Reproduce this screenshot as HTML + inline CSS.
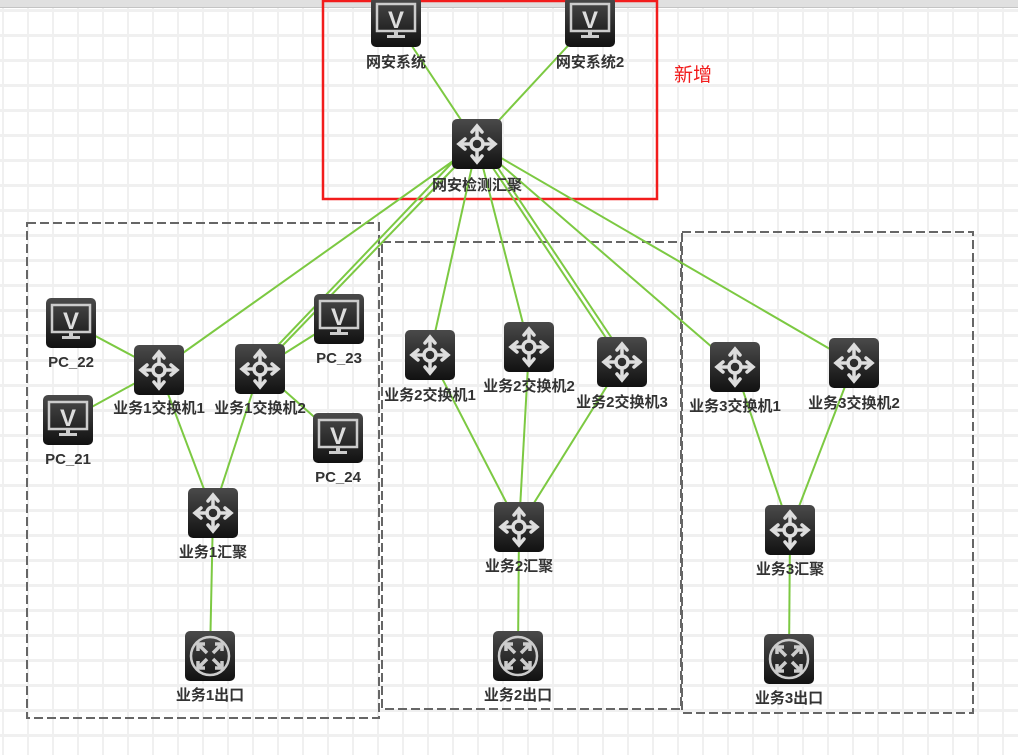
<!DOCTYPE html>
<html><head><meta charset="utf-8"><style>
html,body{margin:0;padding:0;width:1018px;height:755px;overflow:hidden;background:#fff}
svg text{font-family:"Liberation Sans","Noto Sans CJK SC",sans-serif;font-weight:bold;font-size:15px;fill:#333}
</style></head><body>
<svg width="1018" height="755" viewBox="0 0 1018 755" xmlns="http://www.w3.org/2000/svg">
<defs>
<pattern id="grid" x="2" y="9" width="25" height="25" patternUnits="userSpaceOnUse">
<rect x="0" y="0" width="25" height="3" fill="#f0f0f0"/><rect x="0" y="0" width="2" height="25" fill="#f0f0f0"/>
</pattern>
<linearGradient id="g" x1="0" y1="0" x2="0" y2="1"><stop offset="0" stop-color="#4a4a4a"/><stop offset="1" stop-color="#111"/></linearGradient>
<g id="sw">
<rect x="-25" y="-25" width="50" height="50" rx="5" fill="url(#g)"/>
<g stroke="#ddd" stroke-width="3.5" fill="none" stroke-linecap="round">
<circle cx="0" cy="0" r="6"/>
<line x1="0" y1="-6" x2="0" y2="-17"/><line x1="0" y1="6" x2="0" y2="17"/><line x1="-6" y1="0" x2="-17" y2="0"/><line x1="6" y1="0" x2="17" y2="0"/>
<polyline points="-5,-12 0,-18 5,-12"/><polyline points="-5,12 0,18 5,12"/><polyline points="-12,-5 -18,0 -12,5"/><polyline points="12,-5 18,0 12,5"/>
</g></g>
<g id="pc">
<rect x="-25" y="-25" width="50" height="50" rx="5" fill="url(#g)"/>
<rect x="-19" y="-18" width="38" height="27" fill="none" stroke="#ccc" stroke-width="2.5"/>
<text x="0" y="6" text-anchor="middle" style="font-size:24px;fill:#ddd;font-weight:bold">V</text>
<rect x="-2" y="9" width="4" height="5" fill="#ccc"/><rect x="-9" y="13" width="18" height="3" fill="#ccc"/>
</g>
<g id="rt">
<rect x="-25" y="-25" width="50" height="50" rx="5" fill="url(#g)"/>
<circle cx="0" cy="0" r="19" fill="none" stroke="#ccc" stroke-width="2.5"/>
<g stroke="#ccc" stroke-width="3.5" fill="none">
<line x1="-11" y1="-11" x2="-3" y2="-3"/><line x1="11" y1="-11" x2="3" y2="-3"/><line x1="-11" y1="11" x2="-3" y2="3"/><line x1="11" y1="11" x2="3" y2="3"/>
<polyline points="-12,-5 -12,-12 -5,-12"/><polyline points="12,-5 12,-12 5,-12"/><polyline points="-12,5 -12,12 -5,12"/><polyline points="12,5 12,12 5,12"/>
</g></g>
</defs>
<rect width="1018" height="755" fill="url(#grid)"/>
<rect x="0" y="0" width="1018" height="7" fill="#e0e0e0"/><rect x="0" y="7" width="1018" height="1" fill="#c4c4c4"/>

<g stroke="#666" stroke-width="2" fill="none" stroke-dasharray="9,4">
<rect x="27" y="223" width="352" height="495"/>
<rect x="382" y="242" width="299" height="467"/>
<rect x="682" y="232" width="291" height="481"/>
</g>
<rect x="323" y="1" width="334" height="198" fill="none" stroke="#f21c1c" stroke-width="2.5"/>
<text x="674" y="81" style="font-size:19px;font-weight:normal;fill:#f21c1c">新增</text>

<g stroke="#7cc942" stroke-width="2">
<line x1="477" y1="144" x2="396" y2="22"/><line x1="477" y1="144" x2="590" y2="22"/>
<line x1="477" y1="144" x2="159" y2="370"/>
<line x1="477" y1="144" x2="260" y2="369"/><line x1="470" y1="144" x2="262" y2="362"/>
<line x1="477" y1="144" x2="430" y2="355"/><line x1="477" y1="144" x2="529" y2="347"/>
<line x1="477" y1="144" x2="622" y2="362"/><line x1="482" y1="144" x2="625" y2="358"/>
<line x1="477" y1="144" x2="735" y2="367"/><line x1="477" y1="144" x2="854" y2="363"/>
<line x1="71" y1="323" x2="159" y2="370"/><line x1="68" y1="420" x2="159" y2="370"/>
<line x1="260" y1="369" x2="339" y2="319"/><line x1="260" y1="369" x2="338" y2="438"/>
<line x1="159" y1="370" x2="213" y2="513"/><line x1="260" y1="369" x2="213" y2="513"/>
<line x1="213" y1="513" x2="210" y2="656"/>
<line x1="430" y1="355" x2="519" y2="527"/><line x1="529" y1="347" x2="519" y2="527"/><line x1="622" y1="362" x2="519" y2="527"/>
<line x1="519" y1="527" x2="518" y2="656"/>
<line x1="735" y1="367" x2="790" y2="530"/><line x1="854" y1="363" x2="790" y2="530"/>
<line x1="790" y1="530" x2="789" y2="659"/>
</g>

<use href="#pc" x="396" y="22"/><use href="#pc" x="590" y="22"/>
<use href="#sw" x="477" y="144"/>
<use href="#pc" x="71" y="323"/><use href="#pc" x="68" y="420"/>
<use href="#sw" x="159" y="370"/><use href="#sw" x="260" y="369"/>
<use href="#pc" x="339" y="319"/><use href="#pc" x="338" y="438"/>
<use href="#sw" x="213" y="513"/><use href="#rt" x="210" y="656"/>
<use href="#sw" x="430" y="355"/><use href="#sw" x="529" y="347"/><use href="#sw" x="622" y="362"/>
<use href="#sw" x="519" y="527"/><use href="#rt" x="518" y="656"/>
<use href="#sw" x="735" y="367"/><use href="#sw" x="854" y="363"/>
<use href="#sw" x="790" y="530"/><use href="#rt" x="789" y="659"/>

<g text-anchor="middle">
<text x="396" y="67">网安系统</text><text x="590" y="67">网安系统2</text>
<text x="477" y="190">网安检测汇聚</text>
<text x="71" y="367">PC_22</text><text x="68" y="464">PC_21</text>
<text x="159" y="413">业务1交换机1</text><text x="260" y="413">业务1交换机2</text>
<text x="339" y="363">PC_23</text><text x="338" y="482">PC_24</text>
<text x="213" y="557">业务1汇聚</text><text x="210" y="700">业务1出口</text>
<text x="430" y="400">业务2交换机1</text><text x="529" y="391">业务2交换机2</text><text x="622" y="407">业务2交换机3</text>
<text x="519" y="571">业务2汇聚</text><text x="518" y="700">业务2出口</text>
<text x="735" y="411">业务3交换机1</text><text x="854" y="408">业务3交换机2</text>
<text x="790" y="574">业务3汇聚</text><text x="789" y="703">业务3出口</text>
</g>
</svg>
</body></html>
